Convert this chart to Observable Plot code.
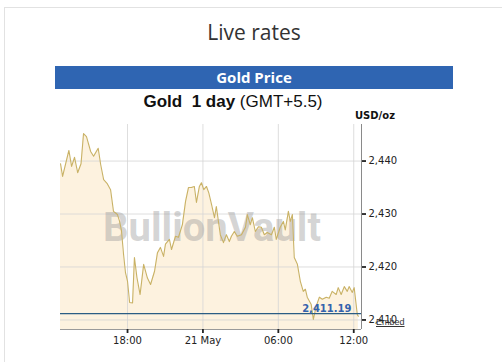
<!DOCTYPE html>
<html>
<head>
<meta charset="utf-8">
<script src="https://cdn.jsdelivr.net/npm/d3@7"></script>
<script src="https://cdn.jsdelivr.net/npm/@observablehq/plot@0.6"></script>
<style>
  html, body { margin: 0; padding: 0; background: #fff; }
  body { width: 502px; height: 362px; overflow: hidden; position: relative; font-family: "Liberation Sans", Arial, sans-serif; }
  #frame { position: absolute; left: 4px; top: 7px; width: 620px; height: 420px; border: 1px solid #e2e2e2; }
  #title { position: absolute; left: 0; width: 508px; top: 22px; text-align: center; font: 400 21px/21px "Open Sans", sans-serif; color: #333; }
  #bar { position: absolute; left: 55px; top: 66px; width: 398px; height: 23px; background: #2f65b2; color: #fff; text-align: center; font: 700 15px/23px "Open Sans", sans-serif; }
  #sub { position: absolute; left: 0; width: 466px; top: 93px; text-align: center; font: 400 17px/17px "Liberation Sans", Arial, sans-serif; color: #111; white-space: pre; }
  #sub b { font-weight: 700; }
  #unit { position: absolute; left: 355px; top: 111px; font: 700 10px/10px "DejaVu Sans", sans-serif; color: #111; }
  #embed { position: absolute; left: 376px; top: 318px; font: 400 9px/9px "Liberation Sans", Arial, sans-serif; color: #333; text-decoration: underline; }
  #chart { position: absolute; left: 0; top: 110px; }
</style>
</head>
<body>
<div id="frame"></div>
<div id="title">Live rates</div>
<div id="bar">Gold Price</div>
<div id="sub"><b>Gold  1 day</b> (GMT+5.5)</div>
<div id="chart"></div>
<div id="unit">USD/oz</div>
<div id="embed">Embed</div>
<script>
// ---- data ----
const times = [
  "2024-05-20T12:40","2024-05-20T12:50","2024-05-20T13:20","2024-05-20T13:33","2024-05-20T13:47",
  "2024-05-20T14:02","2024-05-20T14:18","2024-05-20T14:30","2024-05-20T14:44","2024-05-20T15:04",
  "2024-05-20T15:18","2024-05-20T15:40","2024-05-20T15:52","2024-05-20T16:06","2024-05-20T16:22",
  "2024-05-20T16:39","2024-05-20T16:53","2024-05-20T17:12","2024-05-20T17:22","2024-05-20T17:31",
  "2024-05-20T17:41","2024-05-20T17:50","2024-05-20T18:00","2024-05-20T18:10","2024-05-20T18:24",
  "2024-05-20T18:33","2024-05-20T18:45","2024-05-20T19:00","2024-05-20T19:17","2024-05-20T19:35",
  "2024-05-20T19:50","2024-05-20T20:09","2024-05-20T20:23","2024-05-20T20:37","2024-05-20T20:52",
  "2024-05-20T21:01","2024-05-20T21:20","2024-05-20T21:30","2024-05-20T21:49","2024-05-20T22:03",
  "2024-05-20T22:22","2024-05-20T22:37","2024-05-20T22:51","2024-05-20T23:05","2024-05-20T23:19",
  "2024-05-20T23:29","2024-05-20T23:43","2024-05-20T23:53","2024-05-21T00:04","2024-05-21T00:17",
  "2024-05-21T00:28","2024-05-21T00:41","2024-05-21T00:55","2024-05-21T01:04","2024-05-21T01:23",
  "2024-05-21T01:38","2024-05-21T01:52","2024-05-21T02:06","2024-05-21T02:16","2024-05-21T02:30",
  "2024-05-21T02:44","2024-05-21T03:04","2024-05-21T03:23","2024-05-21T03:32","2024-05-21T03:46",
  "2024-05-21T03:56","2024-05-21T04:10","2024-05-21T04:25","2024-05-21T04:39","2024-05-21T04:53",
  "2024-05-21T05:07","2024-05-21T05:27","2024-05-21T05:41","2024-05-21T05:50","2024-05-21T06:09",
  "2024-05-21T06:24","2024-05-21T06:33","2024-05-21T06:48","2024-05-21T06:57","2024-05-21T07:07",
  "2024-05-21T07:16","2024-05-21T07:31","2024-05-21T07:45","2024-05-21T07:59","2024-05-21T08:09",
  "2024-05-21T08:18","2024-05-21T08:37","2024-05-21T08:47","2024-05-21T09:01","2024-05-21T09:16",
  "2024-05-21T09:30","2024-05-21T09:49","2024-05-21T10:03","2024-05-21T10:17","2024-05-21T10:36",
  "2024-05-21T10:46","2024-05-21T11:00","2024-05-21T11:15","2024-05-21T11:29","2024-05-21T11:38",
  "2024-05-21T11:53","2024-05-21T12:02","2024-05-21T12:17","2024-05-21T12:22"
];
const prices = [
  2439.5, 2437.1, 2442.0, 2439.0, 2440.7,
  2437.8, 2439.5, 2445.2, 2444.6, 2441.8,
  2440.9, 2442.4, 2439.3, 2436.5, 2435.8,
  2434.6, 2430.5, 2429.9, 2428.6, 2426.9,
  2422.4, 2419.0, 2417.3, 2413.3, 2413.2,
  2421.8, 2418.0, 2414.8, 2420.5, 2417.9,
  2416.7, 2419.2, 2422.7, 2423.7, 2422.0,
  2424.3, 2425.2, 2423.3, 2425.8, 2425.6,
  2428.0, 2432.4, 2435.0, 2435.0, 2435.2,
  2432.2, 2435.2, 2435.9, 2434.6, 2435.2,
  2434.0, 2431.8, 2429.3, 2431.4, 2426.1,
  2424.6, 2426.1, 2424.8, 2425.8, 2426.7,
  2425.8, 2426.1, 2427.5, 2429.9, 2428.0,
  2429.3, 2426.7, 2427.6, 2427.5, 2426.1,
  2426.5, 2426.1, 2427.5, 2425.2, 2427.5,
  2428.6, 2427.0, 2430.5, 2428.6, 2429.9,
  2421.8, 2420.5, 2417.3, 2415.4, 2415.8,
  2414.3, 2412.9, 2410.1, 2412.6, 2414.3,
  2413.9, 2414.3, 2414.1, 2415.4, 2414.8,
  2416.1, 2414.8, 2416.3, 2415.4, 2416.3,
  2415.2, 2416.1, 2411.0, 2410.7
];
const refPrice = 2411.19;
const refLabel = "2,411.19";
const xDomain = ["2024-05-20T12:40", "2024-05-21T12:37"];
const yDomain = [2408.2, 2446.9];
const xTicks = ["2024-05-20T18:00", "2024-05-21T00:00", "2024-05-21T06:00", "2024-05-21T12:00"];
const xTickLabels = ["18:00", "21 May", "06:00", "12:00"];
const yTicks = [2410, 2420, 2430, 2440];
const watermark = "BullionVault";

// ---- build ----
const toDate = s => new Date(s + ":00Z");
const data = times.map((t, i) => ({t: toDate(t), v: prices[i]}));
const xT = xTicks.map(toDate);
const xDom = xDomain.map(toDate);
const fontFamily = "'DejaVu Sans', Verdana, sans-serif";

const chart = Plot.plot({
  width: 502,
  height: 252,
  marginTop: 14,
  marginBottom: 33,
  marginLeft: 60,
  marginRight: 141,
  style: {fontFamily, fontSize: "10px", color: "#222", background: "transparent", overflow: "visible"},
  x: {type: "utc", domain: xDom},
  y: {domain: yDomain},
  marks: [
    Plot.areaY(data, {x: "t", y1: yDomain[0], y2: "v", fill: "#fdf1db", fillOpacity: 0.9}),
    Plot.ruleX(xT, {stroke: "#d4d4d4", strokeOpacity: 0.8}),
    Plot.ruleY(yTicks, {stroke: "#d4d4d4", strokeOpacity: 0.8}),
    Plot.text([watermark], {frameAnchor: "middle", dx: 1, dy: 1, fontSize: 40, fontWeight: "bold", fontFamily: "Roboto, 'Liberation Sans', sans-serif", fill: "#999", fillOpacity: 0.42}),
    Plot.lineY(data, {x: "t", y: "v", stroke: "#c9b266", strokeWidth: 1.1}),
    Plot.ruleY([refPrice], {stroke: "#2b5d84", strokeWidth: 1.2}),
    Plot.text([refLabel], {frameAnchor: "right", y: [refPrice], dx: -10, dy: -2, lineAnchor: "bottom", textAnchor: "end", fontWeight: "bold", fontSize: 10, fill: "#3462ad"}),
    Plot.ruleY([yDomain[0]], {stroke: "#9a9a9a"}),
    Plot.ruleX([xDom[1]], {stroke: "#8a8a8a"}),
    Plot.axisY(yTicks, {anchor: "right", tickSize: 4, tickPadding: 3, tickFormat: d3.format(","), fontSize: 10, color: "#222", strokeWidth: 1.8, label: null}),
    Plot.axisX(xT, {anchor: "bottom", tickSize: 4, tickPadding: 3, tickFormat: (d, i) => xTickLabels[i], fontSize: 10, color: "#222", strokeWidth: 1.8, label: null})
  ]
});
document.getElementById("chart").appendChild(chart);
</script>
</body>
</html>
